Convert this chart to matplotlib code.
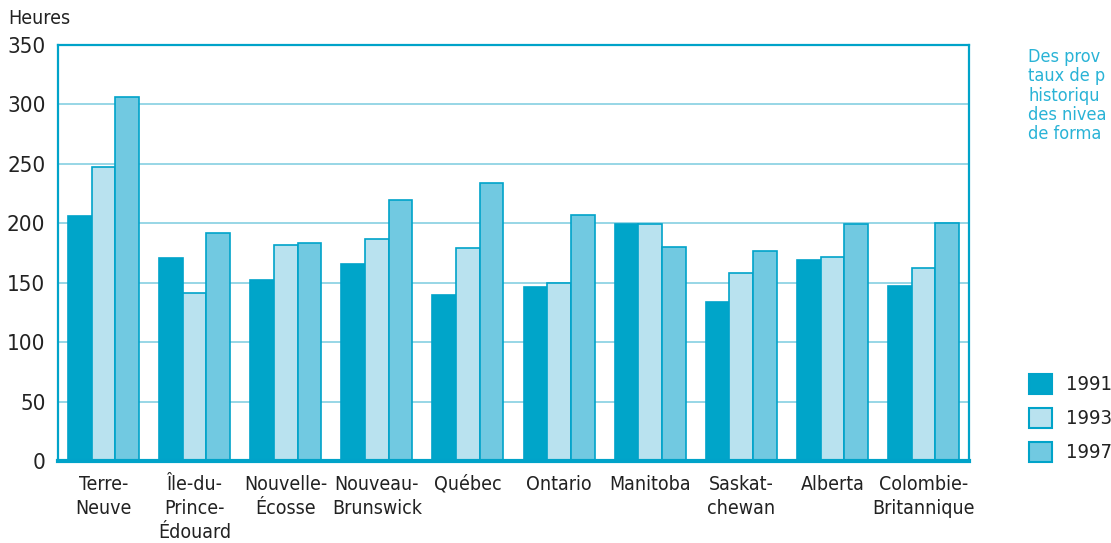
import numpy as np
import matplotlib.pyplot as plt
from matplotlib.patches import Rectangle

plt.rcParams['font.family'] = ['DejaVu Sans']
plt.rcParams['font.stretch'] = 'condensed'

provinces = ['Terre-\nNeuve', 'Île-du-\nPrince-\nÉdouard', 'Nouvelle-\nÉcosse', 'Nouveau-\nBrunswick',
             'Québec', 'Ontario', 'Manitoba', 'Saskat-\nchewan', 'Alberta', 'Colombie-\nBritannique']
annees = ['1991', '1993', '1997']
h1991 = [206, 171, 152, 166, 140, 146, 199, 134, 169, 147]
h1993 = [247, 141, 182, 187, 179, 150, 199, 158, 172, 162]
h1997 = [306, 192, 183, 220, 234, 207, 180, 177, 199, 200]
yticks = [0, 50, 100, 150, 200, 250, 300, 350]

couleurs = ['#00a5c9', '#b9e2ef', '#71c9e1']
bord = '#00a3c9'

W, H = 1111, 543
fig = plt.figure(figsize=(W / 100, H / 100), dpi=100)
ax = fig.add_axes([58/W, 82/H, 911/W, 416/H])

x = np.arange(len(provinces))
w = 0.26
for i, vals in enumerate([h1991, h1993, h1997]):
    ax.bar(x + (i - 1) * w, vals, w, color=couleurs[i], edgecolor=bord, linewidth=1.2, zorder=3)

ax.set_xlim(-0.5, len(provinces) - 0.5)
ax.set_ylim(0, 350)
ax.set_yticks(yticks)
ax.set_yticklabels([str(v) for v in yticks], fontsize=16, color='#222222')
ax.set_xticks(x)
ax.set_xticklabels(provinces, fontsize=14, color='#222222', va='top', linespacing=1.35)
ax.tick_params(axis='both', length=0)
ax.tick_params(axis='y', pad=9)
ax.tick_params(axis='x', pad=10)
ax.yaxis.grid(True, color='#8fd3e4', linewidth=1.3, zorder=0)

for s in ['left', 'right', 'top']:
    ax.spines[s].set_color(bord)
    ax.spines[s].set_linewidth(1.6)
ax.spines['bottom'].set_color(bord)
ax.spines['bottom'].set_linewidth(3)
ax.spines['bottom'].set_zorder(4)

fig.text(8/W, 1 - 19/H, 'Heures', fontsize=14, color='#222222', va='center', ha='left')

# note en marge
note = ['Des prov', 'taux de p', 'historiqu', 'des nivea', 'de forma']
for k, ligne in enumerate(note):
    fig.text(1028/W, 1 - (57 + k * 19.3)/H, ligne, fontsize=13, color='#29b3d6',
             va='center', ha='left')

# légende faite à la main
for i, an in enumerate(annees):
    yc = 384 + i * 34
    fig.patches.append(Rectangle((1029/W, 1 - (yc + 10)/H), 23/W, 20/H, transform=fig.transFigure,
                                 facecolor=couleurs[i], edgecolor=bord, linewidth=1.5))
    fig.text(1066/W, 1 - yc/H, an, fontsize=14.5, color='#222222', va='center', ha='left')

fig.savefig('out.png', dpi=100)
